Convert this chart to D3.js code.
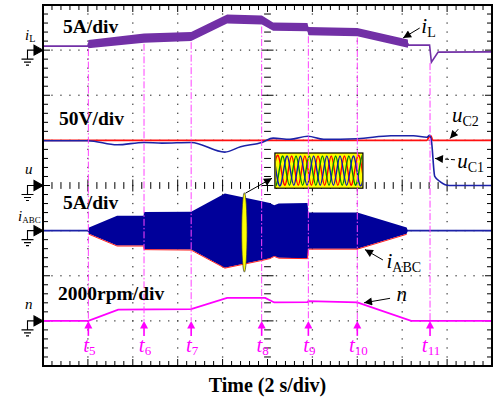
<!DOCTYPE html>
<html>
<head>
<meta charset="utf-8">
<script src="https://cdn.jsdelivr.net/npm/d3@7"></script>
<style>
    body { margin: 0; background: #fff; }
    svg { display: block; font-family: 'Liberation Serif', 'Times New Roman', serif; }
</style>
</head>
<body>
<div id="chart"></div>
<script>
// time axis in s (2 s/div), each trace in its own unit
const markerNames = ['5', '6', '7', '8', '9', '10', '11'];
const markerTimes = [2.02, 4.5, 6.6, 9.74, 11.82, 14.0, 17.24];

// [t, iL (A), ripple half-band (A)]
const iLPoints = [
    [0, 0.44, 0], [2.0, 0.44, 0], [2.02, 0.67, 0.45], [4.5, 1.33, 0.5], [6.6, 1.5, 0.5],
    [8.2, 3.44, 0.5], [9.75, 3.33, 0.5], [10.25, 2.6, 0.45], [11.78, 2.55, 0.45], [11.82, 2.1, 0.45],
    [14.0, 2.0, 0.45], [16.25, 0.72, 0.45], [16.27, 0.55, 0], [17.22, 0.55, 0], [17.3, -1.33, 0],
    [17.6, -0.22, 0], [20, -0.19, 0],
];
// [t, uC1 (V)]
const uC1Points = [
    [0, 49.6], [2.0, 49.6], [3.3, 45.1], [4.5, 47.7], [5.3, 47.0], [6.6, 47.7], [8.1, 37.0],
    [8.8, 43.0], [9.75, 47.7], [10.25, 52.5], [11.0, 51.2], [11.8, 54.5], [12.5, 51.2], [14.0, 51.8],
    [15.5, 55.1], [16.5, 55.1], [17.1, 53.4], [17.22, 55.5], [17.3, 50.0], [17.45, 10.0], [17.7, 4.1],
    [18.1, 0], [20, 0],
];
// [t, uC2 (V)]
const uC2Points = [[0, 50], [17.1, 50], [17.2, 54], [17.28, 55], [17.36, 50], [20, 50]];
// [t, envelope amplitude of iABC (A)]
const iAbcPoints = [
    [0, 0], [2.0, 0], [2.05, 0.35], [3.3, 1.65], [4.48, 1.65], [4.5, 2.05], [6.6, 2.1], [8.1, 4.1],
    [9.75, 3.25], [10.1, 3.05], [10.3, 2.8], [10.5, 3.0], [11.78, 3.05], [11.82, 2.0], [14.0, 2.0],
    [16.2, 0.35], [16.25, 0], [20, 0],
];
// [t, n (rpm)]
const speedPoints = [
    [0, 0], [2.02, 0], [3.35, 500], [6.6, 520], [8.2, 1020], [9.9, 1020], [10.3, 816],
    [11.78, 830], [11.82, 874], [14.0, 816], [16.4, 0], [20, 0],
];
// zoomed three-phase currents in the inset: [position across inset, normalised value]
const phaseA = [
    [-0.035, -1], [0.04, 1], [0.115, -1], [0.19, 1], [0.265, -1], [0.34, 1], [0.415, -1], [0.49, 1],
    [0.565, -1], [0.64, 1], [0.715, -1], [0.79, 1], [0.865, -1], [0.94, 1], [1.015, -1],
];
const phaseB = [
    [-0.06, 1], [0.015, -1], [0.09, 1], [0.165, -1], [0.24, 1], [0.315, -1], [0.39, 1], [0.465, -1],
    [0.54, 1], [0.615, -1], [0.69, 1], [0.765, -1], [0.84, 1], [0.915, -1], [0.99, 1], [1.065, -1],
];
const phaseC = [
    [-0.01, 1], [0.065, -1], [0.14, 1], [0.215, -1], [0.29, 1], [0.365, -1], [0.44, 1], [0.515, -1],
    [0.59, 1], [0.665, -1], [0.74, 1], [0.815, -1], [0.89, 1], [0.965, -1], [1.04, 1],
];

const specs = {
    width: 494,
    height: 401,
    margin: { top: 5, right: 2, bottom: 35, left: 43 },
};
const width = specs.width - specs.margin.left - specs.margin.right;
const height = specs.height - specs.margin.top - specs.margin.bottom;

const channels = {
    iL: { offset: 3, perDiv: 5, scale: '5A/div', sym: 'i', sub: 'L' },
    u: { offset: 0, perDiv: 50, scale: '50V/div', sym: 'u', sub: '' },
    iAbc: { offset: -1, perDiv: 5, scale: '5A/div', sym: 'i', sub: 'ABC' },
    n: { offset: -3, perDiv: 2000, scale: '2000rpm/div', sym: 'n', sub: '' },
};

const x = d3.scaleLinear().domain([0, 20]).range([0, width]);
const y = d3.scaleLinear().domain([-4, 4]).range([height, 0]);
const yc = (ch, v) => y(ch.offset + v / ch.perDiv);

const svg = d3.select('#chart')
    .append('svg')
    .attr('width', specs.width)
    .attr('height', specs.height);

const defs = svg.append('defs');
defs.append('marker')
    .attr('id', 'head')
    .attr('viewBox', '0 0 10 10')
    .attr('refX', 10)
    .attr('refY', 5)
    .attr('markerUnits', 'userSpaceOnUse')
    .attr('markerWidth', 9)
    .attr('markerHeight', 8)
    .attr('orient', 'auto')
    .append('path')
    .attr('d', 'M0,0L10,5L0,10z')
    .attr('fill', '#000');

const g = svg.append('g')
    .attr('transform', `translate(${specs.margin.left},${specs.margin.top})`);

// dotted graticule
const xMinor = d3.range(0, 20.001, 0.4);
const yMinor = d3.range(-4, 4.001, 0.2);
const dots = [];
[-3, -2, -1, 1, 2, 3].forEach((d) => xMinor.forEach(t => dots.push([t, d])));
[2, 4, 6, 8, 12, 14, 16, 18].forEach((t) => yMinor.forEach(d => dots.push([t, d])));
g.append('g')
    .selectAll('rect')
    .data(dots)
    .enter()
    .append('rect')
    .attr('x', d => x(d[0]) - 0.65)
    .attr('y', d => y(d[1]) - 0.65)
    .attr('width', 1.3)
    .attr('height', 1.3)
    .attr('fill', '#444');

// ticks on frame and centre axes
const ticks = g.append('g').attr('stroke', '#000').attr('stroke-width', 1);
const isMajorT = t => Math.abs(t / 2 - Math.round(t / 2)) < 1e-6;
const isMajorD = d => Math.abs(d - Math.round(d)) < 1e-6;
xMinor.slice(1, -1).forEach((t) => {
    const len = isMajorT(t) ? 7 : 5;
    const half = isMajorT(t) ? 6 : 3.4;
    ticks.append('line').attr('x1', x(t)).attr('x2', x(t)).attr('y1', 0).attr('y2', len);
    ticks.append('line').attr('x1', x(t)).attr('x2', x(t)).attr('y1', height).attr('y2', height - len);
    ticks.append('line').attr('x1', x(t)).attr('x2', x(t)).attr('y1', y(0) - half).attr('y2', y(0) + half);
});
yMinor.slice(1, -1).forEach((d) => {
    const len = isMajorD(d) ? 7 : 5;
    const half = isMajorD(d) ? 6 : 3.4;
    ticks.append('line').attr('y1', y(d)).attr('y2', y(d)).attr('x1', 0).attr('x2', len);
    ticks.append('line').attr('y1', y(d)).attr('y2', y(d)).attr('x1', width).attr('x2', width - len);
    ticks.append('line').attr('y1', y(d)).attr('y2', y(d)).attr('x1', x(10) - half).attr('x2', x(10) + half);
});

// iL trace
g.append('path')
    .datum(iLPoints)
    .attr('fill', '#7230a6')
    .attr('d', d3.area()
        .x(d => x(d[0]))
        .y0(d => yc(channels.iL, d[1] - d[2]))
        .y1(d => yc(channels.iL, d[1] + d[2])));
g.append('path')
    .datum(iLPoints)
    .attr('fill', 'none')
    .attr('stroke', '#7230a6')
    .attr('stroke-width', 1.6)
    .attr('d', d3.line().x(d => x(d[0])).y(d => yc(channels.iL, d[1])));

// capacitor voltages
g.append('path')
    .datum(uC2Points)
    .attr('fill', 'none')
    .attr('stroke', '#ff1010')
    .attr('stroke-width', 1.8)
    .attr('d', d3.line().x(d => x(d[0])).y(d => yc(channels.u, d[1])).curve(d3.curveMonotoneX));
g.append('path')
    .datum(uC1Points)
    .attr('fill', 'none')
    .attr('stroke', '#1c22a8')
    .attr('stroke-width', 1.6)
    .attr('d', d3.line().x(d => x(d[0])).y(d => yc(channels.u, d[1])).curve(d3.curveMonotoneX));

// phase currents envelope
g.append('path')
    .datum(iAbcPoints)
    .attr('fill', 'none')
    .attr('stroke', '#1c22a8')
    .attr('stroke-width', 1.6)
    .attr('d', d3.line().x(d => x(d[0])).y(() => yc(channels.iAbc, 0)));
g.append('path')
    .datum(iAbcPoints)
    .attr('fill', '#00009a')
    .attr('d', d3.area()
        .x(d => x(d[0]))
        .y0(d => yc(channels.iAbc, -d[1]))
        .y1(d => yc(channels.iAbc, d[1])));
g.append('path')
    .datum(iAbcPoints.filter(d => d[1] > 0))
    .attr('fill', 'none')
    .attr('stroke', '#ff2020')
    .attr('stroke-width', 1)
    .attr('d', d3.line().x(d => x(d[0])).y(d => yc(channels.iAbc, -d[1]) + 0.5));

// speed
g.append('path')
    .datum(speedPoints)
    .attr('fill', 'none')
    .attr('stroke', '#ff00ff')
    .attr('stroke-width', 1.8)
    .attr('d', d3.line().x(d => x(d[0])).y(d => yc(channels.n, d[1])));

// highlighted window on iABC and its zoomed inset
g.append('ellipse')
    .attr('cx', x(8.97))
    .attr('cy', yc(channels.iAbc, -0.2))
    .attr('rx', x(0.12) - x(0))
    .attr('ry', yc(channels.iAbc, 0) - yc(channels.iAbc, 4.4))
    .attr('fill', '#ffff00')
    .attr('stroke', '#333')
    .attr('stroke-width', 0.7);

const inset = { x0: x(10.33), x1: x(14.25), y0: y(0.72), y1: y(-0.06) };
const insetX = d3.scaleLinear().domain([0, 1]).range([inset.x0, inset.x1]);
const insetY = d3.scaleLinear().domain([-1, 1]).range([inset.y1 - 3, inset.y0 + 3]);
defs.append('clipPath')
    .attr('id', 'inset-clip')
    .append('rect')
    .attr('x', inset.x0 + 1)
    .attr('y', inset.y0)
    .attr('width', inset.x1 - inset.x0 - 2)
    .attr('height', inset.y1 - inset.y0);
g.append('rect')
    .attr('x', inset.x0)
    .attr('y', inset.y0)
    .attr('width', inset.x1 - inset.x0)
    .attr('height', inset.y1 - inset.y0)
    .attr('fill', '#ffff00');
const waves = g.append('g').attr('clip-path', 'url(#inset-clip)');
[[phaseA, '#ff0000'], [phaseB, '#008a00'], [phaseC, '#1018b0']].forEach(([pts, col]) => {
    waves.append('path')
        .datum(pts)
        .attr('fill', 'none')
        .attr('stroke', col)
        .attr('stroke-width', 1.4)
        .attr('d', d3.line().x(d => insetX(d[0])).y(d => insetY(d[1])).curve(d3.curveNatural));
});
g.append('rect')
    .attr('x', inset.x0)
    .attr('y', inset.y0)
    .attr('width', inset.x1 - inset.x0)
    .attr('height', inset.y1 - inset.y0)
    .attr('fill', 'none')
    .attr('stroke', '#000')
    .attr('stroke-width', 1.2);

const front = g.append('g');

// instants t5..t11, each dash-dot line starts just under the iL trace
const bisect = d3.bisector(d => d[0]).left;
const lowerIL = (t) => {
    const i = Math.min(iLPoints.length - 1, Math.max(1, bisect(iLPoints, t)));
    const a = iLPoints[i - 1];
    const b = iLPoints[i];
    const k = (t - a[0]) / (b[0] - a[0]);
    return (a[1] - a[2]) + k * ((b[1] - b[2]) - (a[1] - a[2]));
};
const startIL = t => d3.min(d3.range(t - 0.1, t + 0.1, 0.01), lowerIL);
const tipY = yc(channels.n, 0);
front.append('g')
    .selectAll('line')
    .data(markerTimes)
    .enter()
    .append('line')
    .attr('x1', d => x(d))
    .attr('x2', d => x(d))
    .attr('y1', d => yc(channels.iL, startIL(d)) + 1)
    .attr('y2', tipY)
    .attr('stroke', '#ff40ff')
    .attr('stroke-width', 1)
    .attr('stroke-dasharray', '7,2,1.5,2');
front.append('g')
    .selectAll('path')
    .data(markerTimes)
    .enter()
    .append('path')
    .attr('d', d => `M${x(d)},${tipY}l-4,7.5h8z`)
    .attr('fill', '#ff00ff');
front.append('g')
    .selectAll('line')
    .data(markerTimes)
    .enter()
    .append('line')
    .attr('x1', d => x(d))
    .attr('x2', d => x(d))
    .attr('y1', tipY + 7)
    .attr('y2', tipY + 15)
    .attr('stroke', '#ff00ff')
    .attr('stroke-width', 1.6);
const tLabels = front.append('g')
    .selectAll('text')
    .data(markerTimes)
    .enter()
    .append('text')
    .attr('x', d => x(d) + 1)
    .attr('y', tipY + 31)
    .attr('text-anchor', 'middle')
    .attr('fill', '#ff00ff')
    .attr('font-size', 21)
    .attr('font-style', 'italic');
tLabels.append('tspan').text('t');
tLabels.append('tspan')
    .attr('font-size', 13)
    .attr('font-style', 'normal')
    .attr('dy', 3)
    .text((d, i) => markerNames[i]);

// frame
front.append('rect')
    .attr('width', width)
    .attr('height', height)
    .attr('fill', 'none')
    .attr('stroke', '#000')
    .attr('stroke-width', 2);

// volts/div labels
const scaleLabels = [
    [channels.iL, 0.89, 3.38],
    [channels.u, 0.71, 1.34],
    [channels.iAbc, 0.89, -0.52],
    [channels.n, 0.67, -2.53],
];
front.append('g')
    .selectAll('text')
    .data(scaleLabels)
    .enter()
    .append('text')
    .attr('x', d => x(d[1]))
    .attr('y', d => y(d[2]))
    .attr('font-size', 19.5)
    .attr('font-weight', 'bold')
    .text(d => d[0].scale);

// ground markers and channel names on the left
Object.values(channels).forEach((ch) => {
    const gy = y(ch.offset);
    const mk = front.append('g').attr('stroke', '#000').attr('stroke-width', 1.1);
    mk.append('path')
        .attr('d', `M0,${gy}l-9,-5v10z`)
        .attr('fill', '#000');
    mk.append('path')
        .attr('fill', 'none')
        .attr('d', `M-9,${gy}h-6.5v9M-21.5,${gy + 9}h12M-19,${gy + 12}h7M-17,${gy + 15}h3`);
    const label = front.append('text')
        .attr('x', ch.sub === 'ABC' ? -25 : -18)
        .attr('y', gy - (ch.sym === 'i' ? 10 : 12))
        .attr('font-size', 15);
    label.append('tspan').attr('font-style', 'italic').text(ch.sym);
    if (ch.sub) {
        label.append('tspan')
            .attr('font-size', ch.sub === 'ABC' ? 9 : 10)
            .attr('dy', 2)
            .text(ch.sub);
    }
});

// trace names with pointers
const notes = [
    { sym: 'i', sub: 'L', at: [16.85, 3.38], from: [16.78, 3.49], to: [16.04, 3.27] },
    { sym: 'u', sub: 'C2', at: [18.22, 1.41], from: [18.5, 1.25], to: [18.13, 1.04] },
    { sym: 'u', sub: 'C1', at: [18.45, 0.39], from: [18.35, 0.57], to: [17.46, 0.6], dash: true },
    { sym: 'i', sub: 'ABC', at: [15.3, -1.83], from: [15.14, -1.65], to: [14.34, -1.42] },
    { sym: 'n', sub: '', at: [15.75, -2.57], from: [15.46, -2.5], to: [14.3, -2.6] },
    { sym: '', sub: '', at: [0, 0], from: [9.02, -0.17], to: [10.2, 0.16] },
];
notes.forEach((n) => {
    front.append('line')
        .attr('x1', x(n.from[0]))
        .attr('y1', y(n.from[1]))
        .attr('x2', x(n.to[0]))
        .attr('y2', y(n.to[1]))
        .attr('stroke', '#000')
        .attr('stroke-width', 1)
        .attr('stroke-dasharray', n.dash ? '4,2' : null)
        .attr('marker-end', 'url(#head)');
    if (!n.sym) return;
    const t = front.append('text')
        .attr('x', x(n.at[0]))
        .attr('y', y(n.at[1]))
        .attr('font-size', 21);
    t.append('tspan').attr('font-style', 'italic').text(n.sym);
    if (n.sub) {
        t.append('tspan').attr('font-size', 14).attr('dy', 4).text(n.sub);
    }
});

// time axis title
svg.append('text')
    .attr('x', specs.margin.left + x(10))
    .attr('y', 392)
    .attr('text-anchor', 'middle')
    .attr('font-size', 20)
    .attr('font-weight', 'bold')
    .text('Time (2 s/div)');
</script>
</body>
</html>
